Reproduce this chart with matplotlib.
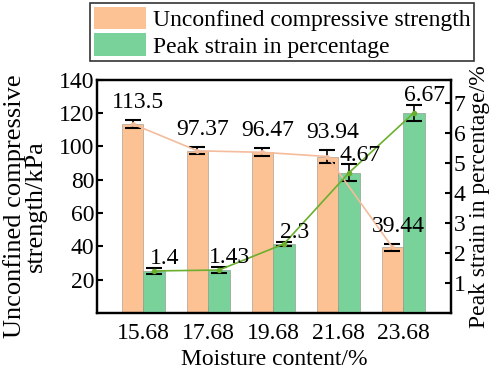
import matplotlib
matplotlib.use("Agg")
import matplotlib.pyplot as plt
import numpy as np
from matplotlib.patches import Patch

moisture = ["15.68", "17.68", "19.68", "21.68", "23.68"]
ucs = [113.5, 97.37, 96.47, 93.94, 39.44]
ucs_err = [2.4, 2.1, 2.4, 3.8, 2.0]
strain = [1.4, 1.43, 2.3, 4.67, 6.67]
strain_err = [0.1, 0.1, 0.08, 0.28, 0.26]

plt.rcParams['font.family'] = ['Liberation Serif', 'DejaVu Serif']
plt.rcParams['mathtext.fontset'] = 'stix'

c_or = '#FDC294'
c_gr = '#7AD29B'
c_orline = '#F4BC9C'
c_grline = '#6AAF2E'
FS = 17

fig = plt.figure(figsize=(4.98, 3.73), dpi=100)
ax1 = fig.add_axes([0.195, 0.161, 0.711, 0.625])
ax2 = ax1.twinx()

x = np.arange(len(moisture))
w = 0.33
xo = x - w / 2
xg = x + w / 2

ax1.bar(xo, ucs, width=w, color=c_or, edgecolor='#B0A090', linewidth=0.5, zorder=2)
ax2.bar(xg, strain, width=w, color=c_gr, edgecolor='#90A090', linewidth=0.5, zorder=2)

ax1.errorbar(xo, ucs, yerr=ucs_err, fmt='none', ecolor='black', elinewidth=1.2, capsize=6, capthick=1.5, zorder=4)
ax2.errorbar(xg, strain, yerr=strain_err, fmt='none', ecolor='black', elinewidth=1.2, capsize=6, capthick=1.5, zorder=4)

ax2.plot(xo, ucs, color=c_orline, lw=1.2, marker='o', ms=2.5, transform=ax1.transData, zorder=5)
ax2.plot(xg, strain, color=c_grline, lw=1.2, marker='o', ms=3, zorder=6)

for xi, v, e in zip(xo, ucs, ucs_err):
    ax2.annotate(f"{v:g}", (xi, v + e), xycoords=ax1.transData, xytext=(4, 5),
                 textcoords='offset points', ha='center', va='bottom', fontsize=FS, zorder=7)
for xi, v, e in zip(xg, strain, strain_err):
    ax2.annotate(f"{v:g}", (xi, v + e), xytext=(8, -1), textcoords='offset points',
                 ha='center', va='bottom', fontsize=FS, zorder=7)

ax1.set_xlim(-0.71, 4.74)
ax1.set_ylim(0, 140)
ax2.set_ylim(0, 7.77)
ax1.set_yticks([20, 40, 60, 80, 100, 120, 140])
ax2.set_yticks([1, 2, 3, 4, 5, 6, 7])
ax1.set_xticks(x)
ax1.set_xticklabels(moisture)

for ax in (ax1, ax2):
    ax.tick_params(labelsize=FS, direction='in', length=4, width=1.5, pad=2)
    for s in ax.spines.values():
        s.set_linewidth(1.6)
ax1.tick_params(axis='x', direction='in', pad=7)

ax1.set_xlabel("Moisture content/%", fontsize=FS, labelpad=4)
ax2.set_ylabel("Peak strain in percentage/%", fontsize=FS, labelpad=2)

# two-line left y label
fig.text(25 / 498, 1 - 206 / 373, "Unconfined compressive\nstrength/kPa", rotation=90,
         ha='center', va='center', fontsize=19, linespacing=0.9)

handles = [Patch(facecolor=c_or, edgecolor='none'), Patch(facecolor=c_gr, edgecolor='none')]
leg = fig.legend(handles, ["Unconfined compressive strength", "Peak strain in percentage"],
                 loc='upper left', bbox_to_anchor=(0.181, 0.992), fontsize=FS,
                 frameon=True, fancybox=False, edgecolor='black', handlelength=2.2,
                 handleheight=1.1, borderpad=0.15, labelspacing=0.1, handletextpad=0.3,
                 borderaxespad=0)
leg.get_frame().set_linewidth(1.2)

fig.savefig("out.png", dpi=100)
